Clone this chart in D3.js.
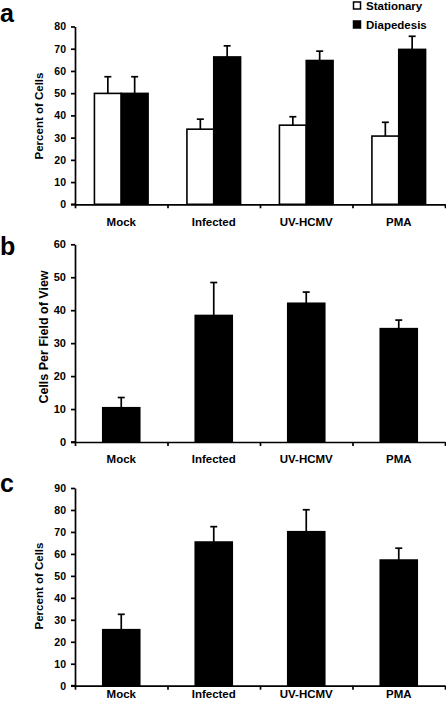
<!DOCTYPE html>
<html><head><meta charset="utf-8">
<script src="https://cdn.jsdelivr.net/npm/d3@7"></script>
<style>
body{margin:0;background:#fff;}
svg{display:block;font-family:"Liberation Sans",Arial,sans-serif;font-weight:bold;}
</style></head>
<body><svg id="chart" width="446" height="707"></svg>
<script>
const categories = ["Mock", "Infected", "UV-HCMV", "PMA"];
// Panel a
const seriesA = ["Stationary", "Diapedesis"];
const stationary = [49.9, 33.8, 35.6, 30.7];
const stationaryErr = [7.5, 4.5, 3.8, 6.2];
const diapedesis = [49.9, 66.3, 64.7, 69.7];
const diapedesisErr = [7.5, 5.0, 4.2, 5.9];
const ticksA = [0, 10, 20, 30, 40, 50, 60, 70, 80];
// Panel b
const cellsPerField = [10.4, 38.4, 42.1, 34.4];
const cellsPerFieldErr = [3.1, 10.0, 3.4, 2.6];
const ticksB = [0, 10, 20, 30, 40, 50, 60];
// Panel c
const percentC = [25.5, 65.4, 70.1, 57.2];
const percentCErr = [7.0, 7.0, 10.0, 5.4];
const ticksC = [0, 10, 20, 30, 40, 50, 60, 70, 80, 90];

const svg = d3.select("#chart");
const x0 = 75, x1 = 445;

function panel(cfg) {
  const g = svg.append("g");
  const y = d3.scaleLinear().domain([0, cfg.max]).range([cfg.yBottom, cfg.yTop]);
  const xb = d3.scaleBand().domain(categories).range([x0, x1]).paddingInner(cfg.pad).paddingOuter(cfg.pad / 2);
  const xs = d3.scaleBand().domain(d3.range(cfg.series.length)).range([0, xb.bandwidth()]);
  cfg.series.forEach((s, si) => {
    g.selectAll(null).data(s.values).enter().append("rect")
      .attr("x", (d, i) => xb(categories[i]) + xs(si))
      .attr("width", xs.bandwidth())
      .attr("y", d => y(d))
      .attr("height", d => y(0) - y(d))
      .attr("fill", s.fill).attr("stroke", "#000").attr("stroke-width", 1.6);
    s.values.forEach((v, i) => {
      const cx = xb(categories[i]) + xs(si) + xs.bandwidth() / 2;
      g.append("line").attr("x1", cx).attr("x2", cx).attr("y1", y(v)).attr("y2", y(v + s.err[i]))
        .attr("stroke", "#000").attr("stroke-width", 1.7);
      g.append("line").attr("x1", cx - 3.5).attr("x2", cx + 3.5).attr("y1", y(v + s.err[i])).attr("y2", y(v + s.err[i]))
        .attr("stroke", "#000").attr("stroke-width", 1.7);
    });
  });
  const ya = g.append("g").attr("transform", `translate(${x0},0)`)
    .call(d3.axisLeft(y).tickValues(cfg.ticks).tickSize(4).tickPadding(5).tickSizeOuter(0));
  ya.select(".domain").attr("stroke-width", 1.7);
  ya.selectAll(".tick line").attr("stroke-width", 1.7);
  ya.selectAll("text").attr("font-size", cfg.tickFont).attr("font-weight", "bold").attr("fill", "#000")
    .attr("font-family", "Liberation Sans, Arial, sans-serif");
  const xl = d3.scaleLinear().domain([0, categories.length]).range([x0, x1]);
  const xa = g.append("g").attr("transform", `translate(0,${y(0)})`)
    .call(d3.axisBottom(xl).tickValues(d3.range(categories.length + 1)).tickFormat("").tickSize(4).tickSizeOuter(0));
  xa.select(".domain").attr("stroke-width", 1.7);
  xa.selectAll(".tick line").attr("stroke-width", 1.7);
  g.append("line").attr("x1", x0 - 4).attr("x2", x0).attr("y1", y(0)).attr("y2", y(0)).attr("stroke", "#000").attr("stroke-width", 1.7);
  g.selectAll(null).data(categories).enter().append("text")
    .attr("x", d => xb(d) + xb.bandwidth() / 2).attr("y", y(0) + cfg.labelOff)
    .attr("text-anchor", "middle").attr("font-size", 11.5).text(d => d);
  g.append("text").attr("transform", `translate(${cfg.titleX},${cfg.titleY}) rotate(-90)`)
    .attr("text-anchor", "middle").attr("font-size", cfg.titleFont).text(cfg.title);
  g.append("text").attr("x", 0).attr("y", cfg.letterY).attr("font-size", 25).text(cfg.letter);
}

panel({
  max: 80, yBottom: 204.3, yTop: 26.5, ticks: ticksA, pad: 0.42, tickFont: 10.5,
  series: [
    {values: stationary, err: stationaryErr, fill: "#fff"},
    {values: diapedesis, err: diapedesisErr, fill: "#000"}
  ],
  labelOff: 22, title: "Percent of Cells", titleX: 43, titleY: 116, titleFont: 11.5,
  letter: "a", letterY: 22
});
panel({
  max: 60, yBottom: 442, yTop: 244.3, ticks: ticksB, pad: 0.6, tickFont: 11,
  series: [{values: cellsPerField, err: cellsPerFieldErr, fill: "#000"}],
  labelOff: 21, title: "Cells Per Field of View", titleX: 48, titleY: 337, titleFont: 12.5,
  letter: "b", letterY: 255
});
panel({
  max: 90, yBottom: 685.7, yTop: 488, ticks: ticksC, pad: 0.6, tickFont: 10.5,
  series: [{values: percentC, err: percentCErr, fill: "#000"}],
  labelOff: 12, title: "Percent of Cells", titleX: 43, titleY: 586, titleFont: 11.5,
  letter: "c", letterY: 492
});

const legend = svg.append("g");
seriesA.forEach((name, i) => {
  const ly = [5.5, 24.5][i];
  legend.append("rect").attr("x", 353.5).attr("y", ly - 3.5).attr("width", 7).attr("height", 7)
    .attr("fill", i === 0 ? "#fff" : "#000").attr("stroke", "#000").attr("stroke-width", 1.5);
  legend.append("text").attr("x", 366).attr("y", ly + 4.5).attr("font-size", 11.5).text(name);
});
</script></body></html>
